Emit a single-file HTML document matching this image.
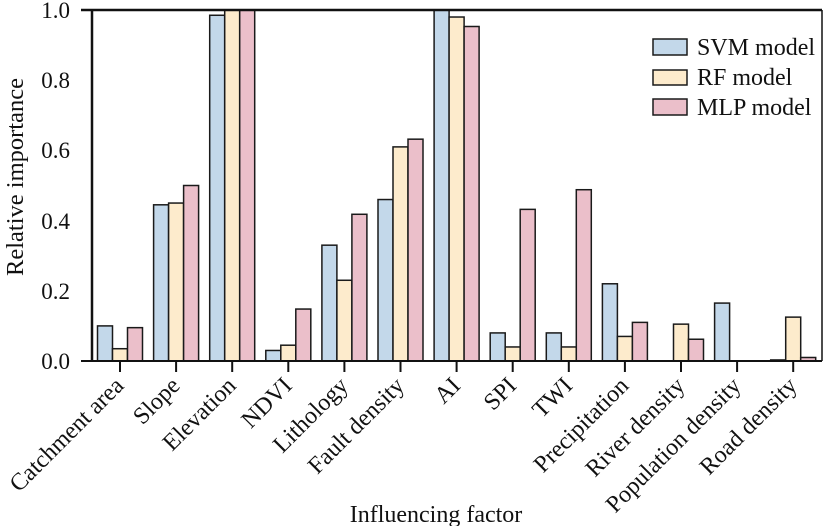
<!DOCTYPE html>
<html><head><meta charset="utf-8"><style>body{margin:0;background:#fff}svg{display:block}</style></head>
<body>
<svg width="824" height="526" xmlns="http://www.w3.org/2000/svg" font-family="Liberation Serif, serif">
<g id="bars" stroke="#1a1a1a" stroke-width="1.5"></g>
<line x1="92" y1="10" x2="92" y2="361" stroke="#111" stroke-width="2.5"/>
<line x1="81" y1="10" x2="822" y2="10" stroke="#111" stroke-width="2.5"/>
<line x1="822" y1="10" x2="822" y2="361" stroke="#111" stroke-width="1.5"/>
<line x1="81" y1="361" x2="822" y2="361" stroke="#111" stroke-width="2"/>
<g id="ticks" stroke="#111" stroke-width="2"></g>
<g font-size="23" text-anchor="end" fill="#111">
<text x="70" y="18">1.0</text><text x="70" y="88">0.8</text><text x="70" y="158">0.6</text><text x="70" y="229">0.4</text><text x="70" y="299">0.2</text><text x="70" y="369">0.0</text>
</g>
<g id="xl" font-size="24" text-anchor="end" fill="#111"></g>
<text transform="translate(23,177) rotate(-90)" font-size="24.5" text-anchor="middle" fill="#111">Relative importance</text>
<text x="436" y="522" font-size="24" text-anchor="middle" fill="#111">Influencing factor</text>
<g stroke="#1a1a1a" stroke-width="1.5">
<rect x="653" y="39" width="34" height="16" fill="#c3d8ea"/>
<rect x="653" y="70" width="34" height="15" fill="#fdebcc"/>
<rect x="653" y="99" width="34" height="16" fill="#ebbfca"/>
</g>
<g font-size="24" fill="#111">
<text x="697" y="55">SVM model</text><text x="697" y="85">RF model</text><text x="697" y="115">MLP model</text>
</g>
<script>
var s=[0.10,0.445,0.985,0.03,0.33,0.46,1.0,0.08,0.08,0.22,0,0.165,0.003];
var r=[0.035,0.45,1.0,0.045,0.23,0.61,0.98,0.04,0.04,0.07,0.105,0,0.125];
var m=[0.095,0.50,1.0,0.148,0.418,0.632,0.953,0.432,0.488,0.11,0.062,0,0.01];
var names=["Catchment area","Slope","Elevation","NDVI","Lithology","Fault density","AI","SPI","TWI","Precipitation","River density","Population density","Road density"];
var cols=["#c3d8ea","#fdebcc","#ebbfca"],ser=[s,r,m];
var B=document.getElementById("bars"),T=document.getElementById("ticks"),X=document.getElementById("xl");
var ns="http://www.w3.org/2000/svg";
for(var i=0;i<13;i++){var c=120+56.1*i;
 for(var k=0;k<3;k++){var v=ser[k][i];if(v<=0)continue;var h=v*351;var e=document.createElementNS(ns,"rect");
  e.setAttribute("x",c-22.5+15*k);e.setAttribute("y",361-h);e.setAttribute("width",15);e.setAttribute("height",h);e.setAttribute("fill",cols[k]);B.appendChild(e);}
 var l=document.createElementNS(ns,"line");l.setAttribute("x1",c);l.setAttribute("x2",c);l.setAttribute("y1",361);l.setAttribute("y2",372);T.appendChild(l);
 var t=document.createElementNS(ns,"text");t.setAttribute("transform","translate("+(c+5)+",387) rotate(-45)");t.textContent=names[i];X.appendChild(t);}
</script>
</svg>
</body></html>
